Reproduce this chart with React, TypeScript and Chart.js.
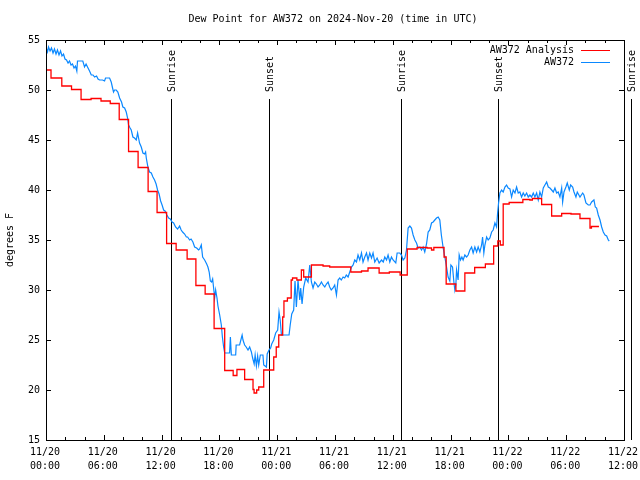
import React, { useEffect, useRef } from 'react';
import { Chart, registerables } from 'chart.js';

Chart.register(...registerables);

const TITLE = 'Dew Point for AW372 on 2024-Nov-20 (time in UTC)';
const Y_LABEL = 'degrees F';
const SERIES_NAMES = ['AW372 Analysis', 'AW372'];
const SERIES_COLORS = ['#ff0000', '#0a88ff'];

const xTickDates = ['11/20', '11/20', '11/20', '11/20', '11/21', '11/21', '11/21', '11/21', '11/22', '11/22', '11/22'];
const xTickTimes = ['00:00', '06:00', '12:00', '18:00', '00:00', '06:00', '12:00', '18:00', '00:00', '06:00', '12:00'];

const sunHours = [12.95, 23.18, 36.88, 46.95, 60.7];
const sunLabels = ['Sunrise', 'Sunset', 'Sunrise', 'Sunset', 'Sunrise'];

// Analysis (hourly, drawn as steps): hours since 11/20 00:00 UTC
const analysisHours = [
  0, 0.52, 1.64, 2.65, 3.64, 4.68, 5.71, 6.67, 7.6, 8.57, 9.56, 10.6, 11.53, 12.52, 13.51,
  14.65, 15.56, 16.52, 17.45, 18.55, 19.43, 19.82, 20.62, 21.49, 21.6, 21.87, 22.08, 22.6,
  23.64, 23.9, 24.16, 24.57, 24.7, 25.06, 25.45, 25.59, 26.04, 26.51, 26.75, 27.55, 28.76,
  29.45, 31.64, 32.75, 33.43, 34.58, 35.64, 36.76, 37.5, 38.52, 39.56, 40.02, 40.26, 41.32,
  41.54, 42.55, 43.48, 44.5, 45.61, 46.47, 46.9, 47.16, 47.46, 48.08, 49.5, 50.23, 50.49,
  51.45, 52.49, 53.53, 54.5, 55.43, 56.47, 56.62, 57.4,
];
const analysisValues = [
  52.0, 51.2, 50.4, 50.05, 49.05, 49.15, 48.9, 48.65, 47.05, 43.85, 42.25, 39.85, 37.75, 34.65, 34.0,
  33.1, 30.45, 29.6, 26.15, 21.95, 21.45, 22.05, 21.05, 20.05, 19.7, 20.0, 20.3, 22.0,
  23.3, 24.3, 25.5, 27.3, 28.9, 29.2, 31.0, 31.2, 31.0, 32.0, 31.3, 32.5, 32.4,
  32.3, 31.8, 31.9, 32.2, 31.7, 31.8, 31.5, 34.1, 34.25, 34.2, 34.0, 34.25, 33.3,
  30.6, 29.9, 31.7, 32.25, 32.6, 34.4, 34.9, 34.5, 38.6, 38.75, 39.05, 39.0, 39.15,
  38.55, 37.4, 37.65, 37.6, 37.15, 36.2, 36.35, 36.35,
];

// Observations
const obsHours = [
  0.02, 0.16, 0.26, 0.42, 0.57, 0.73, 0.88, 1.04, 1.19, 1.35, 1.51, 1.66, 1.82, 1.97, 2.13, 2.29,
  2.44, 2.6, 2.75, 2.91, 3.06, 3.2, 3.27, 3.82, 4.0, 4.16, 4.31, 4.52, 4.7, 4.88, 5.04, 5.25,
  5.4, 5.56, 5.87, 6.08, 6.18, 6.39, 6.6, 6.77, 6.91, 7.01, 7.12, 7.29, 7.46, 7.64, 7.84, 7.98,
  8.16, 8.33, 8.47, 8.57, 8.73, 8.85, 9.02, 9.19, 9.37, 9.51, 9.61, 9.71, 9.89, 10.06, 10.23, 10.34,
  10.41, 10.58, 10.75, 10.93, 11.1, 11.27, 11.43, 11.58, 11.74, 11.9, 12.05, 12.21, 12.36, 12.55,
  12.73, 12.9, 13.09, 13.25, 13.45, 13.66, 13.87, 14.03, 14.18, 14.39, 14.57, 14.7, 14.91, 15.06,
  15.25, 15.43, 15.64, 15.84, 15.95, 16.12, 16.26, 16.47, 16.68, 16.81, 16.94, 17.06, 17.19, 17.3,
  17.4, 17.51, 17.61, 17.75, 17.85, 18.03, 18.2, 18.31, 18.44, 18.55, 19.06, 19.14, 19.24, 19.69,
  19.74, 20.1, 20.28, 20.36, 20.45, 20.62, 20.78, 20.97, 21.14, 21.32, 21.45, 21.61, 21.71, 21.84,
  21.97, 22.08, 22.25, 22.52, 22.6, 22.88, 22.96, 23.15, 23.32, 23.43, 23.64, 23.84, 24.05, 24.19,
  24.31, 24.44, 25.23, 25.35, 25.51, 25.71, 25.85, 25.99, 26.16, 26.34, 26.44, 26.58, 26.75, 26.96,
  27.2, 27.38, 27.55, 27.72, 27.9, 28.07, 28.24, 28.42, 28.59, 28.76, 28.94, 29.11, 29.28, 29.45,
  29.61, 29.8, 29.97, 30.15, 30.32, 30.49, 30.65, 30.84, 31.01, 31.17, 31.36, 31.53, 31.71, 31.88,
  32.05, 32.23, 32.39, 32.57, 32.75, 32.91, 33.09, 33.27, 33.43, 33.61, 33.79, 33.95, 34.13, 34.37,
  34.58, 34.83, 35.01, 35.17, 35.35, 35.51, 35.69, 35.86, 36.03, 36.31, 36.45, 36.73, 36.9, 37.07,
  37.25, 37.42, 37.59, 37.77, 37.94, 38.11, 38.29, 38.46, 38.63, 38.81, 38.98, 39.15, 39.32, 39.5,
  39.67, 39.84, 40.02, 40.19, 40.36, 40.54, 40.71, 40.88, 41.04, 41.23, 41.4, 41.58, 41.74, 41.92,
  42.03, 42.2, 42.34, 42.44, 42.55, 42.62, 42.78, 42.89, 43.03, 43.17, 43.3, 43.48, 43.66, 43.82,
  44.0, 44.18, 44.34, 44.52, 44.7, 44.86, 45.04, 45.22, 45.32, 45.45, 45.56, 45.74, 45.9, 46.08,
  46.26, 46.42, 46.6, 46.77, 46.88, 46.98, 47.12, 47.29, 47.46, 47.64, 47.81, 47.98, 48.16, 48.33,
  48.5, 48.68, 48.85, 49.02, 49.19, 49.37, 49.54, 49.71, 49.89, 50.06, 50.23, 50.41, 50.58, 50.75,
  50.93, 51.1, 51.27, 51.45, 51.62, 51.79, 51.97, 52.14, 52.31, 52.49, 52.66, 52.83, 53.01, 53.17,
  53.35, 53.53, 53.63, 53.77, 53.97, 54.11, 54.32, 54.46, 54.67, 54.81, 55.01, 55.15, 55.43, 55.71,
  55.84, 56.05, 56.29, 56.47, 56.64, 56.88, 57.02, 57.16, 57.33, 57.51, 57.68, 57.85, 58.03, 58.2,
  58.37, 58.47,
];
const obsValues = [
  54.2, 53.8, 54.3, 53.9, 54.2, 53.7, 54.1, 53.6, 54.0, 53.5, 53.9, 53.4, 53.6, 53.1, 53.0, 52.7,
  52.9, 52.5, 52.6, 52.2, 52.4, 51.9, 52.9, 52.9, 52.3, 52.6, 52.3, 51.9, 51.5, 51.5, 51.3, 51.4,
  51.1, 51.0, 51.0, 50.9, 51.2, 51.2, 51.2, 50.8, 50.2, 49.8, 50.0, 50.0, 49.8, 49.2, 48.8, 48.3,
  48.2, 47.8, 47.2, 46.5, 46.2, 46.0, 45.3, 45.2, 45.0, 45.7, 45.2, 44.7, 44.3, 43.7, 43.6, 43.8,
  43.2, 42.3, 41.8, 41.7, 41.3, 41.0, 40.6, 40.0, 39.6, 38.9, 38.5, 38.0, 37.9, 37.5,
  37.2, 37.1, 36.8, 36.7, 36.3, 36.1, 36.4, 36.0, 35.8, 35.6, 35.3, 35.3, 35.0, 35.1,
  34.8, 34.3, 34.2, 34.0, 34.1, 34.5, 33.3, 33.0, 32.6, 32.3, 31.8, 30.9, 30.8, 31.1,
  30.2, 29.2, 30.0, 29.2, 28.4, 27.5, 26.5, 25.3, 24.3, 23.7, 23.7, 25.3, 23.5, 23.5,
  24.5, 24.5, 25.2, 25.5, 25.0, 24.5, 24.3, 24.0, 24.3, 23.8, 23.2, 22.6, 23.5, 22.4,
  23.4, 22.5, 23.5, 23.5, 22.5, 22.3, 23.6, 24.0, 24.2, 24.6, 25.0, 25.7, 26.0, 27.8,
  27.0, 25.5, 25.5, 26.5, 27.6, 28.0, 30.9, 28.3, 31.0, 29.0, 30.2, 28.6, 30.3, 31.2,
  30.8, 32.5, 30.8, 30.2, 30.8, 30.6, 30.3, 30.5, 30.8, 30.5, 30.3, 30.6, 30.8, 30.3,
  30.0, 30.2, 30.5, 29.5, 31.0, 31.2, 31.0, 31.3, 31.2, 31.5, 31.3, 31.8, 32.3, 32.5,
  33.0, 32.8, 33.5, 33.0, 33.7, 32.8, 33.3, 33.7, 33.0, 33.7, 33.2, 33.7, 32.8, 33.2,
  32.7, 33.0, 32.8, 33.3, 33.0, 33.5, 32.8, 33.3, 33.0, 32.7, 33.7, 33.7, 33.5, 33.0,
  33.2, 34.0, 36.2, 36.4, 36.2, 35.5, 35.0, 34.7, 34.2, 34.3, 34.0, 34.3, 33.8, 34.6,
  35.8, 36.0, 36.7, 36.8, 37.0, 37.2, 37.3, 37.0, 35.5, 34.2, 33.3, 32.3, 31.3, 30.9,
  32.5, 32.3, 30.8, 30.0, 30.6, 32.0, 31.0, 33.5, 33.0, 33.3, 33.0, 33.5, 33.3, 33.5,
  34.0, 34.3, 33.7, 34.3, 33.8, 34.3, 33.8, 34.5, 35.3, 33.7, 34.5, 35.3, 35.0, 35.2,
  35.8, 36.0, 36.7, 36.3, 37.7, 38.7, 39.7, 40.0, 39.8, 40.3, 40.5, 40.2, 40.1, 39.3,
  40.0, 39.7, 40.3, 39.7, 39.8, 39.3, 39.7, 39.4, 39.7, 39.3, 39.5, 39.3, 39.7, 39.3,
  39.7, 39.0, 39.8, 39.3, 40.2, 40.5, 40.8, 40.3, 40.2, 40.0, 39.8, 40.2, 39.7, 39.8,
  39.3, 40.2, 38.8, 39.8, 40.3, 40.7, 40.0, 40.5, 40.3, 39.8, 39.3, 39.8, 39.3, 39.7,
  39.5, 38.7, 38.5, 38.5, 38.8, 39.0, 38.3, 38.2, 37.5, 37.0, 36.3, 35.8, 35.5, 35.4,
  35.0, 34.9,
];

const FONT_FAMILY = '"DejaVu Sans Mono", "Liberation Mono", monospace';
const FONT = `10px ${FONT_FAMILY}`;

const decorPlugin = {
  id: 'gnuDecor',
  beforeDatasetsDraw(chart: any) {
    const { ctx, chartArea, scales } = chart;
    const x = scales.x;
    ctx.save();
    ctx.strokeStyle = '#000';
    ctx.fillStyle = '#000';
    ctx.lineWidth = 1;
    ctx.font = FONT;
    sunHours.forEach((h, i) => {
      const px = Math.round(x.getPixelForValue(h)) + 0.5;
      ctx.beginPath();
      ctx.moveTo(px, chartArea.top + 59);
      ctx.lineTo(px, chartArea.bottom);
      ctx.stroke();
      ctx.save();
      ctx.translate(px + 1, chartArea.top + 52);
      ctx.rotate(-Math.PI / 2);
      ctx.textAlign = 'left';
      ctx.textBaseline = 'middle';
      ctx.fillText(sunLabels[i], 0, 0);
      ctx.restore();
    });
    ctx.restore();
  },
  afterDraw(chart: any) {
    const { ctx, chartArea, scales } = chart;
    const { left, right, top, bottom } = chartArea;
    const x = scales.x;
    const y = scales.y;
    ctx.save();
    ctx.strokeStyle = '#000';
    ctx.fillStyle = '#000';
    ctx.lineWidth = 1;
    // frame
    ctx.strokeRect(left + 0.5, top + 0.5, right - left, bottom - top);
    // ticks (inward, mirrored)
    ctx.beginPath();
    for (let h = x.min; h <= x.max; h += 2) {
      const px = Math.round(x.getPixelForValue(h)) + 0.5;
      const len = h % 6 === 0 ? 5 : 3;
      ctx.moveTo(px, bottom);
      ctx.lineTo(px, bottom - len);
      ctx.moveTo(px, top);
      ctx.lineTo(px, top + len);
    }
    for (let v = y.min; v <= y.max; v += 5) {
      const py = Math.round(y.getPixelForValue(v)) + 0.5;
      ctx.moveTo(left, py);
      ctx.lineTo(left + 5, py);
      ctx.moveTo(right, py);
      ctx.lineTo(right - 5, py);
    }
    ctx.stroke();

    ctx.font = FONT;
    // title
    ctx.textAlign = 'center';
    ctx.textBaseline = 'middle';
    ctx.fillText(TITLE, (left + right) / 2 - 2, 19);
    // y label
    ctx.save();
    ctx.translate(10, (top + bottom) / 2);
    ctx.rotate(-Math.PI / 2);
    ctx.fillText(Y_LABEL, 0, 0);
    ctx.restore();
    // legend
    SERIES_NAMES.forEach((name, i) => {
      const ly = top + 10 + i * 12;
      ctx.textAlign = 'right';
      ctx.fillStyle = '#000';
      ctx.fillText(name, right - 50, ly);
      ctx.strokeStyle = SERIES_COLORS[i];
      ctx.beginPath();
      ctx.moveTo(right - 43, ly + 0.5);
      ctx.lineTo(right - 14, ly + 0.5);
      ctx.stroke();
    });
    ctx.restore();
  },
};

export default function App() {
  const canvasRef = useRef<HTMLCanvasElement | null>(null);

  useEffect(() => {
    const canvas = canvasRef.current;
    if (!canvas) return;
    const analysis = analysisHours.map((h, i) => ({ x: h, y: analysisValues[i] }));
    const obs = obsHours.map((h, i) => ({ x: h, y: obsValues[i] }));
    const chart = new Chart(canvas, {
      type: 'line',
      data: {
        datasets: [
          {
            label: SERIES_NAMES[0],
            data: analysis,
            borderColor: SERIES_COLORS[0],
            borderWidth: 1.3,
            pointRadius: 0,
            stepped: 'before',
            tension: 0,
          },
          {
            label: SERIES_NAMES[1],
            data: obs,
            borderColor: SERIES_COLORS[1],
            borderWidth: 1.2,
            pointRadius: 0,
            tension: 0,
          },
        ],
      },
      options: {
        animation: false,
        responsive: false,
        devicePixelRatio: 1,
        parsing: false,
        normalized: true,
        layout: { padding: { left: 0, right: 16, top: 40, bottom: 0 } },
        plugins: {
          legend: { display: false },
          title: { display: false },
          tooltip: { enabled: false },
        },
        scales: {
          x: {
            type: 'linear',
            min: 0,
            max: 60,
            grid: { display: false, drawTicks: false },
            border: { display: false },
            afterFit: (s: any) => {
              s.height = 40;
              s.paddingLeft = 0;
              s.paddingRight = 0;
            },
            ticks: {
              stepSize: 6,
              autoSkip: false,
              maxRotation: 0,
              padding: 5,
              labelOffset: -1,
              color: '#000',
              font: { family: FONT_FAMILY, size: 10, lineHeight: 1.4 },
              callback: (v: any) => {
                const i = Math.round(Number(v) / 6);
                return [xTickDates[i], xTickTimes[i]];
              },
            },
          },
          y: {
            type: 'linear',
            min: 15,
            max: 55,
            grid: { display: false, drawTicks: false },
            border: { display: false },
            afterFit: (s: any) => { s.width = 46; },
            ticks: {
              stepSize: 5,
              padding: 6,
              color: '#000',
              font: { family: FONT_FAMILY, size: 10 },
            },
          },
        },
      },
      plugins: [decorPlugin],
    });
    return () => chart.destroy();
  }, []);

  return (
    <div style={{ position: 'absolute', left: 0, top: 0, width: 640, height: 480, background: '#fff' }}>
      <canvas ref={canvasRef} width={640} height={480} style={{ display: 'block' }} />
    </div>
  );
}
